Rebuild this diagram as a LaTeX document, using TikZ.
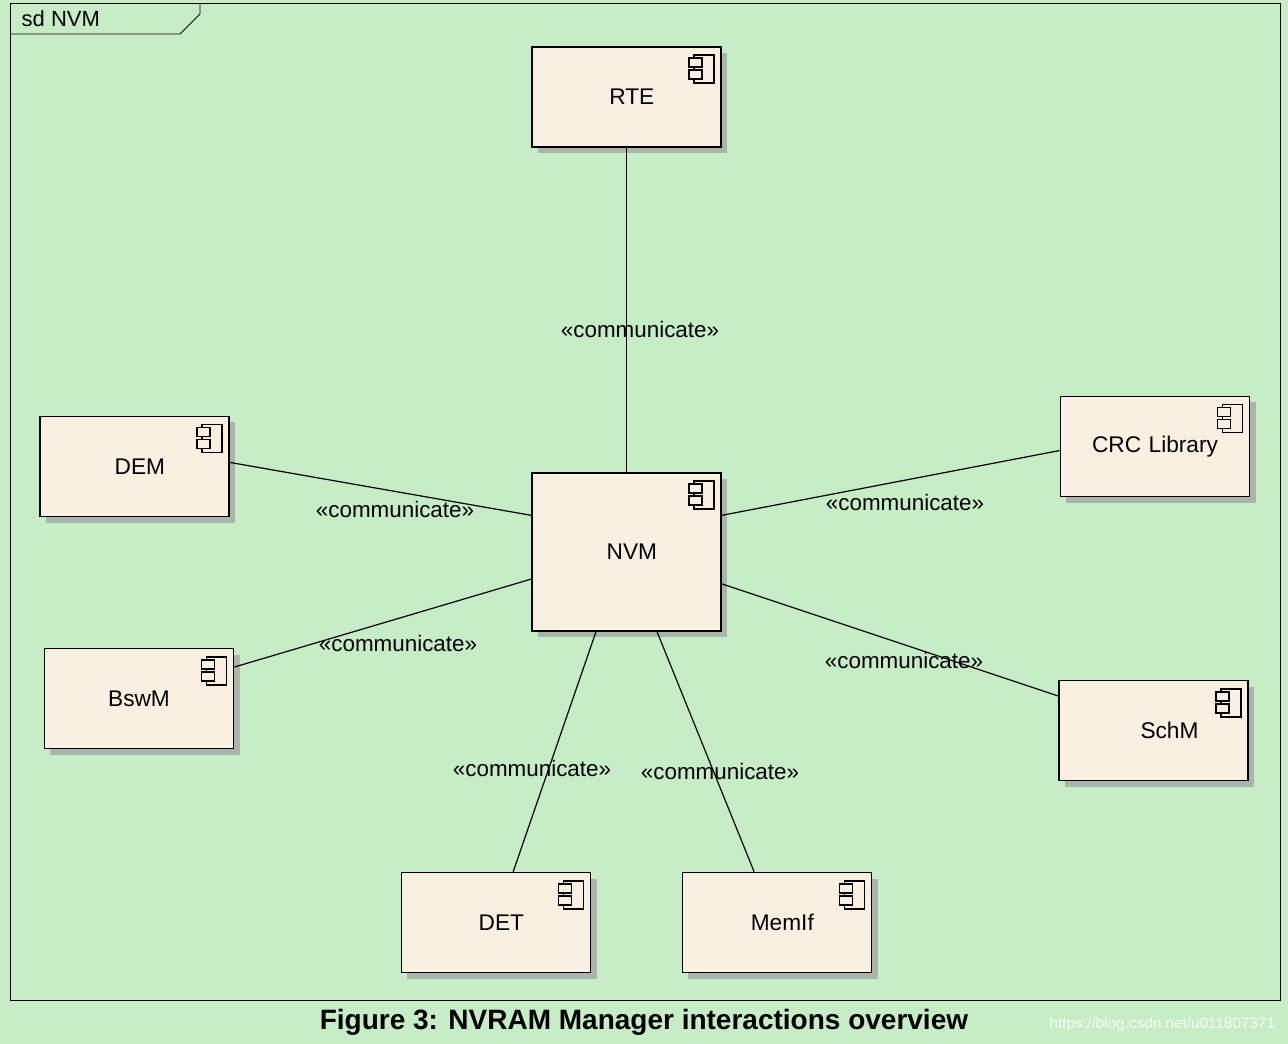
\documentclass[tikz,border=0pt]{standalone}
\usepackage{fontspec}
\setmainfont{Liberation Sans}
\usetikzlibrary{calc}
\definecolor{bg}{HTML}{C6EDC6}
\definecolor{box}{HTML}{FAF0E1}
\definecolor{shad}{HTML}{AAB4AA}
\tikzset{
  comp/.style={draw=black, line width=1.2pt, fill=box, minimum width=142pt, minimum height=75pt, font=\fontsize{17pt}{19pt}\selectfont, inner sep=0pt,
    preaction={fill=shad, transform canvas={shift={(4.5pt,-4.5pt)}}}},
  lab/.style={font=\fontsize{16.8pt}{19pt}\selectfont, inner sep=0pt},
  conn/.style={line width=0.9pt}
}
\newcommand{\compicon}[1]{%
  \draw[line width=1.2pt,fill=box] ($(#1.north east)+(-28,9)$) rectangle ($(#1.north east)+(-8,37)$);
  \draw[line width=1.2pt,fill=box] ($(#1.north east)+(-33,12)$) rectangle ($(#1.north east)+(-20,21)$);
  \draw[line width=1.2pt,fill=box] ($(#1.north east)+(-33,24)$) rectangle ($(#1.north east)+(-20,33)$);
}
\begin{document}
\begin{tikzpicture}[x=0.75pt,y=-0.75pt]
\fill[bg] (0,0) rectangle (1288,1044);
\useasboundingbox (0,0) rectangle (1288,1044);
\draw[line width=0.7pt] (10,3) rectangle (1280,1000);
\draw[line width=0.7pt] (10,34) -- (180,34) -- (200,14) -- (200,3);
\node[anchor=west, font=\fontsize{16.5pt}{18pt}\selectfont] (tag) at (17,19) {sd NVM};

\node[comp, text width=130pt, align=center] (rte) at (626.5,97) {\hspace*{8pt}RTE};
\node[comp, minimum height=118.5pt, text width=130pt, align=center] (nvm) at (626.5,552) {\hspace*{8pt}NVM};
\node[comp, text width=130pt, align=center] (dem) at (134.5,466.5) {\hspace*{8pt}DEM};
\node[comp, text width=130pt, align=center] (crc) at (1155,446.5) {\hspace*{0pt}CRC Library\\[4pt]};
\node[comp, text width=130pt, align=center] (bswm) at (139,698.5) {BswM\\[16pt]};
\node[comp, text width=130pt, align=center] (schm) at (1153.5,730.5) {\hspace*{24pt}SchM\\[5pt]};
\node[comp, text width=130pt, align=center] (det) at (496,922.5) {\hspace*{8pt}DET};
\node[comp, text width=130pt, align=center] (memif) at (777,922.5) {\hspace*{8pt}MemIf};
\foreach \n in {rte,nvm,dem,crc,bswm,schm,det,memif} {\compicon{\n}}

\coordinate (n1) at ($(nvm.north west)!0.27!(nvm.south west)$);
\coordinate (n2) at ($(nvm.north west)!0.67!(nvm.south west)$);
\coordinate (n3) at ($(nvm.north east)!0.27!(nvm.south east)$);
\coordinate (n4) at ($(nvm.north east)!0.70!(nvm.south east)$);
\coordinate (n5) at ($(nvm.south west)!0.34!(nvm.south east)$);
\coordinate (n6) at ($(nvm.south west)!0.66!(nvm.south east)$);
\coordinate (d1) at ($(dem.north east)!0.46!(dem.south east)$);
\coordinate (b1) at ($(bswm.north east)!0.19!(bswm.south east)$);
\coordinate (c1) at ($(crc.north west)!0.54!(crc.south west)$);
\coordinate (s1) at ($(schm.north west)!0.16!(schm.south west)$);
\coordinate (t1) at ($(det.north west)!0.59!(det.north east)$);
\coordinate (m1) at ($(memif.north west)!0.38!(memif.north east)$);

\draw[conn] (rte.south) -- (nvm.north);
\draw[conn] (d1) -- (n1);
\draw[conn] (b1) -- (n2);
\draw[conn] (c1) -- (n3);
\draw[conn] (s1) -- (n4);
\draw[conn] (t1) -- (n5);
\draw[conn] (m1) -- (n6);

\node[lab] (l1) at (640,329) {«communicate»};
\node[lab] (l2) at (395,509) {«communicate»};
\node[lab] (l3) at (398,643) {«communicate»};
\node[lab] (l4) at (905,502) {«communicate»};
\node[lab] (l5) at (904,660) {«communicate»};
\node[lab] (l6) at (532,768) {«communicate»};
\node[lab] (l7) at (720,771) {«communicate»};

\node[font=\bfseries\fontsize{21pt}{23pt}\selectfont] (cap) at (644,1022) {Figure 3: NVRAM Manager interactions overview};
\node[font=\fontsize{11.5pt}{13pt}\selectfont, text=white!85!bg, anchor=east] (wm) at (1280,1025) {https://blog.csdn.net/u011807371};
\end{tikzpicture}
\end{document}
